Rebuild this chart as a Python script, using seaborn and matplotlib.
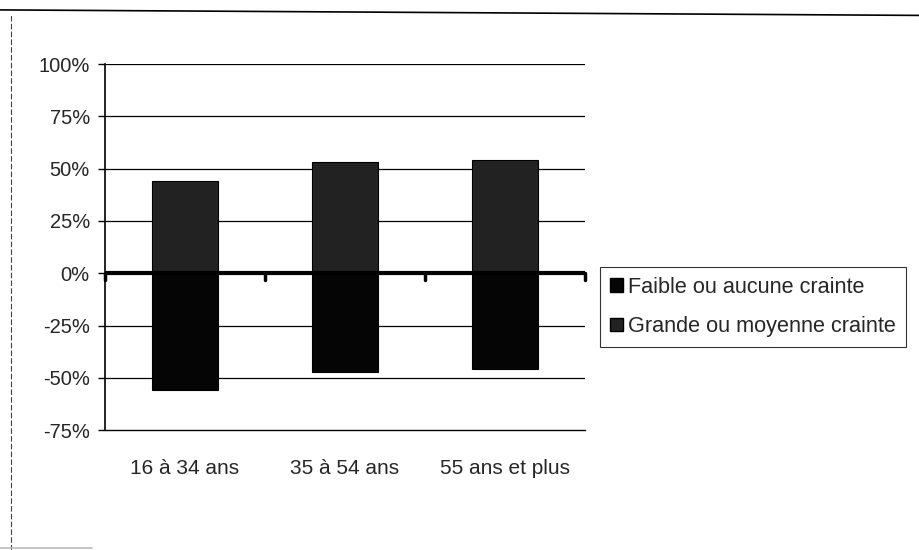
import numpy as np
import pandas as pd
import matplotlib.pyplot as plt
import seaborn as sns
from matplotlib.ticker import FuncFormatter, FixedLocator
from matplotlib.patches import Patch
from matplotlib.lines import Line2D

# donnees
categories = ['16 à 34 ans', '35 à 54 ans', '55 ans et plus']
series = ['Faible ou aucune crainte', 'Grande ou moyenne crainte']
faible = [-56, -47, -46]
grande = [44, 53, 54]

df = pd.DataFrame({
    'categorie': categories * 2,
    'serie': [series[0]] * 3 + [series[1]] * 3,
    'valeur': faible + grande,
})

sns.set_style('white')
plt.rcParams['font.family'] = ['Liberation Sans', 'DejaVu Sans']

fig = plt.figure(figsize=(9.19, 5.5), dpi=100)
ax = fig.add_axes([0.1143, 0.218, 0.5223, 0.6655])

couleurs = {series[0]: '#050505', series[1]: '#222222'}
sns.barplot(data=df, x='categorie', y='valeur', hue='serie', hue_order=series,
            dodge=False, palette=couleurs, width=0.41, ax=ax, legend=False,
            edgecolor='black', linewidth=0.8)

ax.set_ylim(-75, 100)
ax.set_xlim(-0.5, 2.5)
ax.yaxis.set_major_locator(FixedLocator(np.arange(-75, 101, 25)))
ax.yaxis.set_major_formatter(FuncFormatter(lambda v, p: f'{int(v)}%'))
for y in np.arange(-50, 101, 25):
    if y != 0:
        ax.axhline(y, color='black', lw=0.9, zorder=0)
ax.axhline(0, color='black', lw=3, zorder=3)

# petites marques sur l'axe zero
for xb in [-0.5, 0.5, 1.5, 2.5]:
    ax.plot([xb, xb], [0, -3], color='black', lw=2.5, zorder=3, clip_on=False)

for s in ['top', 'right']:
    ax.spines[s].set_visible(False)
ax.spines['left'].set_color('black')
ax.spines['bottom'].set_color('black')
ax.spines['left'].set_linewidth(1.2)
ax.spines['bottom'].set_linewidth(1)
ax.tick_params(axis='y', left=True, length=5, width=1, color='black', labelsize=14.5, pad=6)
ax.tick_params(axis='x', bottom=False, labelsize=15, pad=17)
ax.set_xlabel('')
ax.set_ylabel('')

# legende
poignees = [Patch(facecolor=couleurs[s], edgecolor='black') for s in series]
leg = fig.legend(poignees, series, loc='upper left', bbox_to_anchor=(0.653, 0.5145),
                 fontsize=15.6, frameon=True, fancybox=False, handlelength=0.6,
                 handleheight=0.6, handletextpad=0.25, labelspacing=0.85,
                 borderpad=0.45, borderaxespad=0)
leg.get_frame().set_edgecolor('black')
leg.get_frame().set_linewidth(0.8)

# bords du scan
fig.lines.append(Line2D([0.0, 1.0], [0.982, 0.972], transform=fig.transFigure,
                        color='black', lw=1.2))
fig.lines.append(Line2D([0.012, 0.012], [0.0, 0.975], transform=fig.transFigure,
                        color='#444444', lw=0.8, ls=(0, (5, 2))))
fig.lines.append(Line2D([0.0, 0.1], [0.004, 0.004], transform=fig.transFigure,
                        color='#bbbbbb', lw=1.2))

fig.savefig('out.png', dpi=100)
